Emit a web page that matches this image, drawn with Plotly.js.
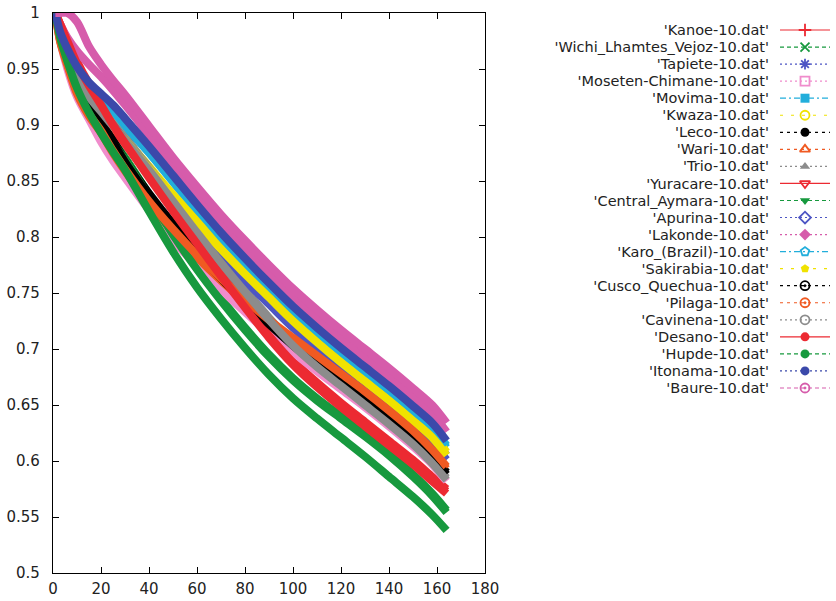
<!DOCTYPE html>
<html>
<head>
<meta charset="utf-8">
<script src="https://cdn.plot.ly/plotly-3.0.1.min.js"></script>
<style>html,body{margin:0;padding:0;background:#fff;}#chart{width:836px;height:601px;}</style>
</head>
<body>
<div id="chart"></div>
<script>
// ---- data ----
const xValues = [1, 3, 6, 10, 15, 20, 25, 30, 40, 50, 60, 70, 80, 90, 100, 110, 120, 130, 140, 150, 158, 164];

const seriesNames = [
  "'Kanoe-10.dat'", "'Wichi_Lhamtes_Vejoz-10.dat'", "'Tapiete-10.dat'", "'Moseten-Chimane-10.dat'",
  "'Movima-10.dat'", "'Kwaza-10.dat'", "'Leco-10.dat'", "'Wari-10.dat'", "'Trio-10.dat'",
  "'Yuracare-10.dat'", "'Central_Aymara-10.dat'", "'Apurina-10.dat'", "'Lakonde-10.dat'",
  "'Karo_(Brazil)-10.dat'", "'Sakirabia-10.dat'", "'Cusco_Quechua-10.dat'", "'Pilaga-10.dat'",
  "'Cavinena-10.dat'", "'Desano-10.dat'", "'Hupde-10.dat'", "'Itonama-10.dat'", "'Baure-10.dat'"
];

const kanoe     = [1.0, 0.990, 0.976, 0.957, 0.937, 0.920, 0.902, 0.886, 0.856, 0.826, 0.798, 0.769, 0.741, 0.714, 0.690, 0.670, 0.652, 0.635, 0.618, 0.601, 0.586, 0.575];
const wichi     = [1.0, 0.981, 0.963, 0.939, 0.918, 0.901, 0.886, 0.871, 0.838, 0.804, 0.773, 0.745, 0.719, 0.695, 0.674, 0.656, 0.640, 0.624, 0.607, 0.588, 0.571, 0.556];
const tapiete   = [1.0, 0.986, 0.967, 0.948, 0.931, 0.918, 0.904, 0.890, 0.861, 0.834, 0.810, 0.787, 0.765, 0.744, 0.723, 0.705, 0.688, 0.671, 0.654, 0.636, 0.620, 0.605];
const moseten   = [1.0, 0.975, 0.950, 0.925, 0.905, 0.885, 0.868, 0.853, 0.824, 0.797, 0.774, 0.753, 0.733, 0.714, 0.697, 0.680, 0.664, 0.648, 0.631, 0.613, 0.597, 0.582];
const movima    = [1.0, 0.982, 0.966, 0.948, 0.933, 0.922, 0.911, 0.899, 0.875, 0.849, 0.823, 0.798, 0.775, 0.753, 0.732, 0.713, 0.695, 0.678, 0.661, 0.643, 0.628, 0.612];
const kwaza     = [1.0, 0.980, 0.960, 0.942, 0.926, 0.914, 0.901, 0.888, 0.863, 0.838, 0.814, 0.792, 0.770, 0.749, 0.728, 0.709, 0.691, 0.674, 0.657, 0.639, 0.624, 0.608];
const leco      = [1.0, 0.985, 0.965, 0.945, 0.925, 0.906, 0.887, 0.869, 0.839, 0.812, 0.788, 0.765, 0.744, 0.724, 0.705, 0.688, 0.672, 0.656, 0.639, 0.621, 0.605, 0.590];
const wari      = [1.0, 0.974, 0.953, 0.928, 0.908, 0.893, 0.875, 0.859, 0.830, 0.805, 0.782, 0.761, 0.742, 0.724, 0.708, 0.692, 0.676, 0.660, 0.643, 0.625, 0.608, 0.593];
const trio      = [1.0, 0.980, 0.960, 0.942, 0.926, 0.914, 0.901, 0.888, 0.862, 0.834, 0.806, 0.779, 0.753, 0.728, 0.705, 0.686, 0.669, 0.652, 0.635, 0.617, 0.600, 0.585];
const yuracare  = [1.0, 0.989, 0.974, 0.954, 0.934, 0.917, 0.899, 0.883, 0.855, 0.825, 0.796, 0.767, 0.739, 0.712, 0.688, 0.668, 0.650, 0.633, 0.616, 0.599, 0.584, 0.573];
const centralAymara = [1.0, 0.980, 0.961, 0.937, 0.916, 0.899, 0.884, 0.869, 0.836, 0.802, 0.771, 0.743, 0.717, 0.693, 0.672, 0.654, 0.638, 0.622, 0.605, 0.586, 0.569, 0.554];
const apurina   = [1.0, 0.985, 0.965, 0.945, 0.928, 0.915, 0.900, 0.886, 0.857, 0.830, 0.806, 0.783, 0.761, 0.740, 0.719, 0.701, 0.684, 0.667, 0.650, 0.632, 0.616, 0.601];
const lakonde   = [1.0, 0.990, 0.978, 0.966, 0.954, 0.943, 0.931, 0.918, 0.891, 0.863, 0.837, 0.812, 0.789, 0.767, 0.746, 0.727, 0.709, 0.692, 0.675, 0.657, 0.642, 0.626];
const karo      = [1.0, 0.982, 0.967, 0.949, 0.935, 0.924, 0.914, 0.902, 0.877, 0.851, 0.825, 0.800, 0.777, 0.755, 0.734, 0.715, 0.697, 0.680, 0.663, 0.645, 0.630, 0.614];
const sakirabia = [1.0, 0.982, 0.962, 0.943, 0.925, 0.912, 0.899, 0.886, 0.861, 0.835, 0.811, 0.789, 0.767, 0.746, 0.725, 0.706, 0.688, 0.671, 0.654, 0.636, 0.621, 0.605];
const cuscoQuechua = [1.0, 0.984, 0.963, 0.943, 0.923, 0.904, 0.885, 0.867, 0.837, 0.810, 0.786, 0.763, 0.742, 0.722, 0.703, 0.686, 0.670, 0.654, 0.637, 0.619, 0.603, 0.588];
const pilaga    = [1.0, 0.975, 0.955, 0.930, 0.910, 0.895, 0.877, 0.861, 0.832, 0.807, 0.784, 0.763, 0.744, 0.726, 0.710, 0.694, 0.678, 0.662, 0.645, 0.627, 0.610, 0.595];
const cavinena  = [1.0, 0.982, 0.962, 0.943, 0.925, 0.912, 0.899, 0.886, 0.860, 0.832, 0.804, 0.777, 0.751, 0.726, 0.703, 0.684, 0.667, 0.650, 0.633, 0.615, 0.598, 0.583];
const desano    = [1.0, 0.990, 0.975, 0.955, 0.935, 0.918, 0.900, 0.884, 0.853, 0.823, 0.794, 0.765, 0.737, 0.710, 0.686, 0.666, 0.648, 0.631, 0.614, 0.597, 0.582, 0.571];
const hupde     = [1.0, 0.978, 0.957, 0.933, 0.911, 0.893, 0.876, 0.860, 0.823, 0.787, 0.755, 0.727, 0.701, 0.677, 0.656, 0.638, 0.621, 0.604, 0.586, 0.568, 0.552, 0.538];
const itonama   = [1.0, 0.983, 0.968, 0.952, 0.938, 0.928, 0.918, 0.906, 0.881, 0.855, 0.829, 0.804, 0.781, 0.759, 0.738, 0.719, 0.701, 0.684, 0.667, 0.649, 0.634, 0.618];
const baure     = [1.0, 1.0, 1.0, 0.992, 0.970, 0.954, 0.940, 0.927, 0.899, 0.871, 0.845, 0.820, 0.797, 0.775, 0.754, 0.735, 0.717, 0.700, 0.683, 0.665, 0.650, 0.634];

const seriesValues = [kanoe, wichi, tapiete, moseten, movima, kwaza, leco, wari, trio, yuracare,
  centralAymara, apurina, lakonde, karo, sakirabia, cuscoQuechua, pilaga, cavinena, desano, hupde, itonama, baure];

// ---- styles ----
const RED = '#ec2a32', GREEN = '#17993e', BLUE = '#3b49aa', BLUE2 = '#4d55c4', PINK = '#d65cab',
      PINK2 = '#f08ccc', CYAN = '#22aedb', YELLOW = '#f0e200', BLACK = '#000000', ORANGE = '#f05a22', GRAY = '#8c8c8c';
const styles = [
  {c: RED,    d: 'solid',       s: 'cross-thin-open'},
  {c: GREEN,  d: '4px,3px',     s: 'x-thin-open'},
  {c: BLUE2,  d: '2px,3px',     s: 'asterisk-open'},
  {c: PINK2,  d: '2px,3px',     s: 'square-open'},
  {c: CYAN,   d: '6px,3px,2px,3px', s: 'square'},
  {c: YELLOW, d: '3px,8px',     s: 'circle-open'},
  {c: BLACK,  d: '3px,4px',     s: 'circle'},
  {c: ORANGE, d: '3px,4px',     s: 'triangle-up-open'},
  {c: GRAY,   d: '2px,3px',     s: 'triangle-up'},
  {c: RED,    d: 'solid',       s: 'triangle-down-open'},
  {c: GREEN,  d: '4px,3px',     s: 'triangle-down'},
  {c: BLUE2,  d: '2px,3px',     s: 'diamond-open'},
  {c: PINK,   d: '2px,3px',     s: 'diamond'},
  {c: CYAN,   d: '6px,3px,2px,3px', s: 'pentagon-open'},
  {c: YELLOW, d: '3px,8px',     s: 'pentagon'},
  {c: BLACK,  d: '3px,4px',     s: 'circle-open-dot'},
  {c: ORANGE, d: '3px,4px',     s: 'circle-open-dot'},
  {c: GRAY,   d: '2px,3px',     s: 'circle-open'},
  {c: RED,    d: 'solid',       s: 'circle'},
  {c: GREEN,  d: '4px,3px',     s: 'circle'},
  {c: BLUE,   d: '2px,3px',     s: 'circle'},
  {c: PINK,   d: '4px,3px',     s: 'circle-open-dot'}
];

const FAMILY = 'DejaVu Sans, Verdana, sans-serif';
const TICKFONT = {family: FAMILY, size: 15, color: '#222'};
const LEGFONT = {family: FAMILY, size: 14.5, color: '#222'};

const traces = [];
seriesValues.forEach((vals, i) => {
  traces.push({
    x: xValues, y: vals, type: 'scatter', mode: 'lines',
    line: {color: styles[i].c, width: 8, shape: 'spline', smoothing: 0.9},
    xaxis: 'x', yaxis: 'y', showlegend: false, hoverinfo: 'skip', name: seriesNames[i]
  });
});
// legend samples drawn on a small side axis; rows indexed by series
seriesNames.forEach((name, i) => {
  const st = styles[i];
  traces.push({
    x: [0, 1], y: [i, i], type: 'scatter', mode: 'lines',
    line: {color: st.c, width: 1.2, dash: st.d},
    xaxis: 'x2', yaxis: 'y2', showlegend: false, hoverinfo: 'skip'
  });
  const openSym = st.s.indexOf('open') >= 0;
  traces.push({
    x: [0.5], y: [i], type: 'scatter', mode: 'markers',
    marker: {symbol: st.s, size: 9, color: st.c, line: {color: st.c, width: openSym ? 1.8 : 0}},
    xaxis: 'x2', yaxis: 'y2', showlegend: false, hoverinfo: 'skip', cliponaxis: false
  });
});

const W = 836, H = 601;
const mL = 53, mR = 6, mT = 13, mB = 28;
const pw = W - mL - mR, ph = H - mT - mB;
const rowTop = 21.5, rowBot = 396.5;

const layout = {
  width: W, height: H,
  margin: {l: mL, r: mR, t: mT, b: mB, pad: 0},
  paper_bgcolor: '#fff', plot_bgcolor: '#fff',
  font: TICKFONT,
  showlegend: false,
  xaxis: {
    domain: [0, (485 - mL) / pw], range: [0, 180], dtick: 20, tick0: 0,
    ticks: 'inside', ticklen: 6, tickcolor: '#000', mirror: 'ticks',
    showline: true, linecolor: '#000', linewidth: 1.2,
    showgrid: false, zeroline: false, tickfont: TICKFONT, ticklabelstandoff: 2, anchor: 'y'
  },
  yaxis: {
    domain: [0, 1], range: [0.5, 1], dtick: 0.05, tick0: 0.5,
    ticks: 'inside', ticklen: 6, tickcolor: '#000', mirror: 'ticks',
    showline: true, linecolor: '#000', linewidth: 1.2,
    showgrid: false, zeroline: false, tickfont: TICKFONT, ticklabelstandoff: 9, anchor: 'x'
  },
  xaxis2: {
    domain: [(780 - mL) / pw, (830 - mL) / pw], range: [0, 1], visible: false, anchor: 'y2', fixedrange: true
  },
  yaxis2: {
    domain: [(H - mB - rowBot) / ph, (H - mB - rowTop) / ph],
    range: [seriesNames.length - 0.5, -0.5],
    tickvals: seriesNames.map((_, i) => i), ticktext: seriesNames,
    ticks: '', showline: false, showgrid: false, zeroline: false,
    tickfont: LEGFONT, ticklabelstandoff: 10, anchor: 'x2', fixedrange: true
  }
};

Plotly.newPlot('chart', traces, layout, {staticPlot: true, displayModeBar: false});
</script>
</body>
</html>
